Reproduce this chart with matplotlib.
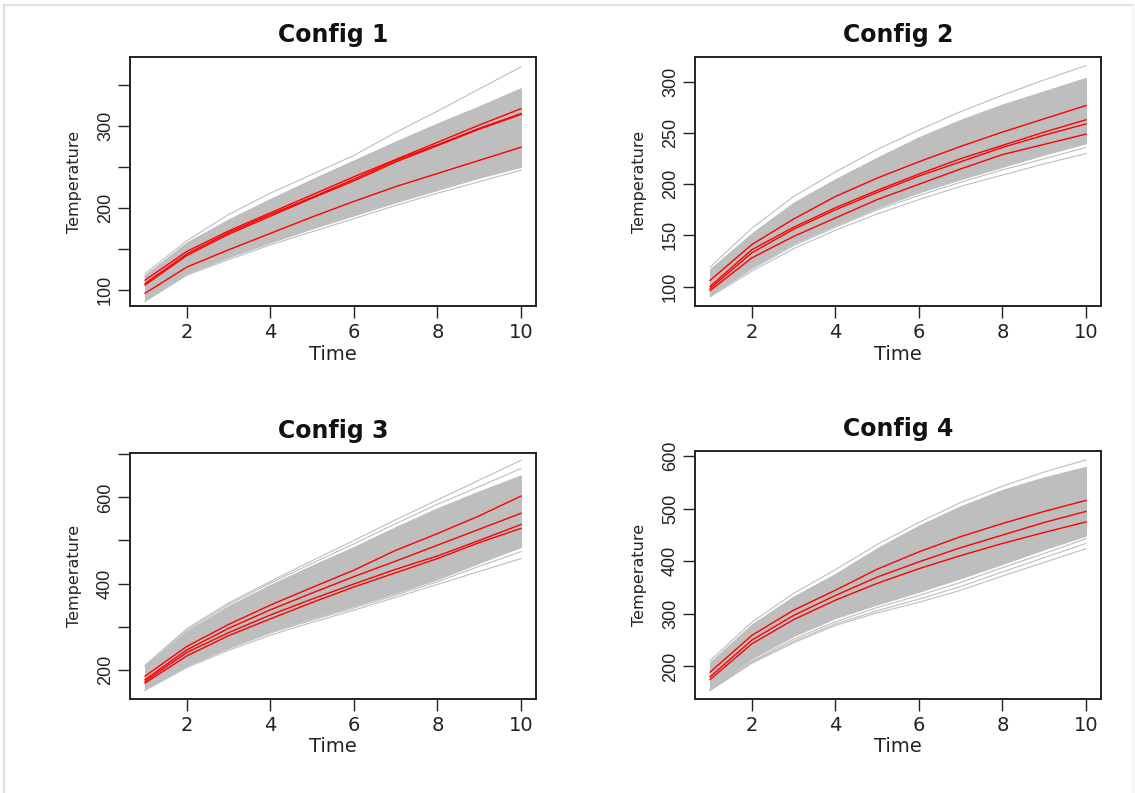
import matplotlib
matplotlib.use("Agg")
import matplotlib.pyplot as plt
from matplotlib.lines import Line2D

# ---------------- data ----------------
time = [1, 2, 3, 4, 5, 6, 7, 8, 9, 10]

titles = ["Config 1", "Config 2", "Config 3", "Config 4"]

# Config 1
c1_band_lo = [88, 120, 140, 158, 175, 191, 207, 222, 237, 250]
c1_band_hi = [118, 158, 186, 211, 235, 258, 281, 303, 324, 346]
c1_gray = [
    [120, 160, 192, 218, 241, 264, 292, 318, 345, 372],
    [86, 118, 137, 155, 171, 187, 203, 218, 232, 246],
    [117, 156, 184, 209, 233, 256, 279, 301, 322, 343],
]
c1_red = [
    [112, 147, 172, 194, 216, 238, 259, 280, 301, 321],
    [108, 144, 170, 192, 213, 235, 258, 277, 297, 315],
    [106, 142, 168, 190, 212, 233, 256, 276, 296, 314],
    [96, 128, 149, 169, 189, 208, 226, 242, 258, 274],
]

# Config 2
c2_band_lo = [92, 119, 142, 160, 177, 192, 205, 217, 229, 240]
c2_band_hi = [117, 152, 182, 205, 226, 246, 263, 278, 291, 304]
c2_gray = [
    [119, 157, 188, 212, 234, 253, 271, 287, 302, 316],
    [90, 115, 137, 155, 171, 185, 198, 209, 220, 230],
    [91, 117, 140, 158, 175, 189, 202, 214, 225, 236],
]
c2_red = [
    [106, 141, 166, 188, 206, 222, 237, 251, 264, 277],
    [100, 136, 158, 177, 194, 210, 225, 238, 251, 263],
    [98, 133, 156, 175, 192, 208, 222, 236, 248, 259],
    [96, 128, 149, 167, 185, 200, 215, 229, 239, 249],
]

# Config 3
c3_band_lo = [156, 210, 252, 289, 319, 348, 378, 410, 448, 485]
c3_band_hi = [208, 290, 348, 397, 442, 485, 531, 575, 614, 651]
c3_gray = [
    [210, 295, 355, 405, 453, 500, 548, 594, 640, 686],
    [209, 292, 351, 401, 447, 492, 539, 584, 625, 667],
    [152, 205, 245, 280, 310, 338, 368, 398, 428, 458],
    [154, 208, 249, 285, 315, 343, 373, 404, 440, 474],
]
c3_red = [
    [185, 254, 305, 350, 391, 431, 477, 516, 557, 603],
    [177, 246, 296, 339, 378, 416, 452, 489, 526, 563],
    [173, 240, 286, 327, 364, 399, 433, 464, 500, 537],
    [169, 232, 279, 318, 356, 392, 425, 458, 495, 528],
]

# Config 4
c4_band_lo = [158, 215, 258, 292, 318, 342, 368, 395, 423, 449]
c4_band_hi = [208, 280, 333, 376, 425, 468, 505, 536, 560, 580]
c4_gray = [
    [211, 284, 339, 384, 432, 474, 512, 543, 570, 593],
    [156, 210, 252, 285, 312, 335, 360, 388, 415, 443],
    [155, 208, 248, 281, 306, 328, 352, 380, 407, 434],
    [154, 206, 245, 278, 302, 322, 345, 372, 398, 424],
]
c4_red = [
    [189, 259, 307, 345, 385, 418, 447, 472, 495, 516],
    [180, 250, 297, 335, 370, 399, 426, 450, 474, 495],
    [175, 243, 289, 326, 358, 386, 411, 434, 455, 475],
]

x_ticks = [2, 4, 6, 8, 10]
y_ticks = [
    [100, 150, 200, 250, 300, 350],
    [100, 150, 200, 250, 300],
    [200, 300, 400, 500, 600, 700],
    [200, 300, 400, 500, 600],
]
y_ticklabels = [
    ["100", "", "200", "", "300", ""],
    ["100", "150", "200", "250", "300"],
    ["200", "", "400", "", "600", ""],
    ["200", "300", "400", "500", "600"],
]
y_limits = [(80.5, 384), (81, 324.4), (132, 703), (138, 610)]

bands_lo = [c1_band_lo, c2_band_lo, c3_band_lo, c4_band_lo]
bands_hi = [c1_band_hi, c2_band_hi, c3_band_hi, c4_band_hi]
grays = [c1_gray, c2_gray, c3_gray, c4_gray]
reds = [c1_red, c2_red, c3_red, c4_red]

# ---------------- figure ----------------
W, H = 1135, 793
fig = plt.figure(figsize=(W / 100, H / 100), dpi=100)
fig.patch.set_facecolor("white")

# light frame around the picture
fig.add_artist(Line2D([4 / W, 1133 / W], [1 - 5 / H, 1 - 5 / H], transform=fig.transFigure,
                      color="#e2e2e2", lw=1.6))
fig.add_artist(Line2D([4 / W, 4 / W], [0, 1 - 5 / H], transform=fig.transFigure,
                      color="#e2e2e2", lw=1.6))
fig.add_artist(Line2D([1133 / W, 1133 / W], [0, 1 - 5 / H], transform=fig.transFigure,
                      color="#eeeeee", lw=1.0))

# axes boxes in pixels: left, top, right, bottom
boxes = [
    (130, 57, 536, 306),
    (695, 57, 1101, 306),
    (130, 453, 536, 699),
    (695, 451, 1101, 699),
]

GRAY = "#bebebe"
for i in range(4):
    l, t, r, b = boxes[i]
    ax = fig.add_axes([l / W, 1 - b / H, (r - l) / W, (b - t) / H])
    ax.fill_between(time, bands_lo[i], bands_hi[i], color=GRAY, lw=0.8, edgecolor=GRAY)
    for g in grays[i]:
        ax.plot(time, g, color=GRAY, lw=0.8)
    for rd in reds[i]:
        ax.plot(time, rd, color="#ff0000", lw=1.0)

    ax.set_xlim(0.64, 10.36)
    ax.set_ylim(*y_limits[i])
    ax.set_xticks(x_ticks)
    ax.set_xticklabels([str(v) for v in x_ticks], family="DejaVu Sans", fontsize=14,
                       color="#222222")
    ax.set_yticks(y_ticks[i])
    ax.set_yticklabels(y_ticklabels[i], rotation=90, va="center",
                       family="Liberation Sans", fontsize=13, color="#222222")
    ax.tick_params(axis="both", direction="out", length=8.5, width=1.0, color="#222222")
    ax.tick_params(axis="x", pad=4)
    ax.tick_params(axis="y", pad=3)
    for sp in ax.spines.values():
        sp.set_linewidth(1.4)
        sp.set_color("#222222")

    ax.set_xlabel("Time", family="DejaVu Sans", fontsize=14, color="#222222")
    ax.xaxis.set_label_coords(0.5, -0.155)
    ax.set_ylabel("Temperature", family="DejaVu Sans", fontsize=11.5, color="#222222")
    ax.yaxis.set_label_coords(-0.118, 0.5)
    ax.set_title(titles[i], family="DejaVu Sans", fontsize=17, fontweight="bold",
                 pad=11, color="#111111")

fig.savefig("out.png", dpi=100, facecolor="white")
